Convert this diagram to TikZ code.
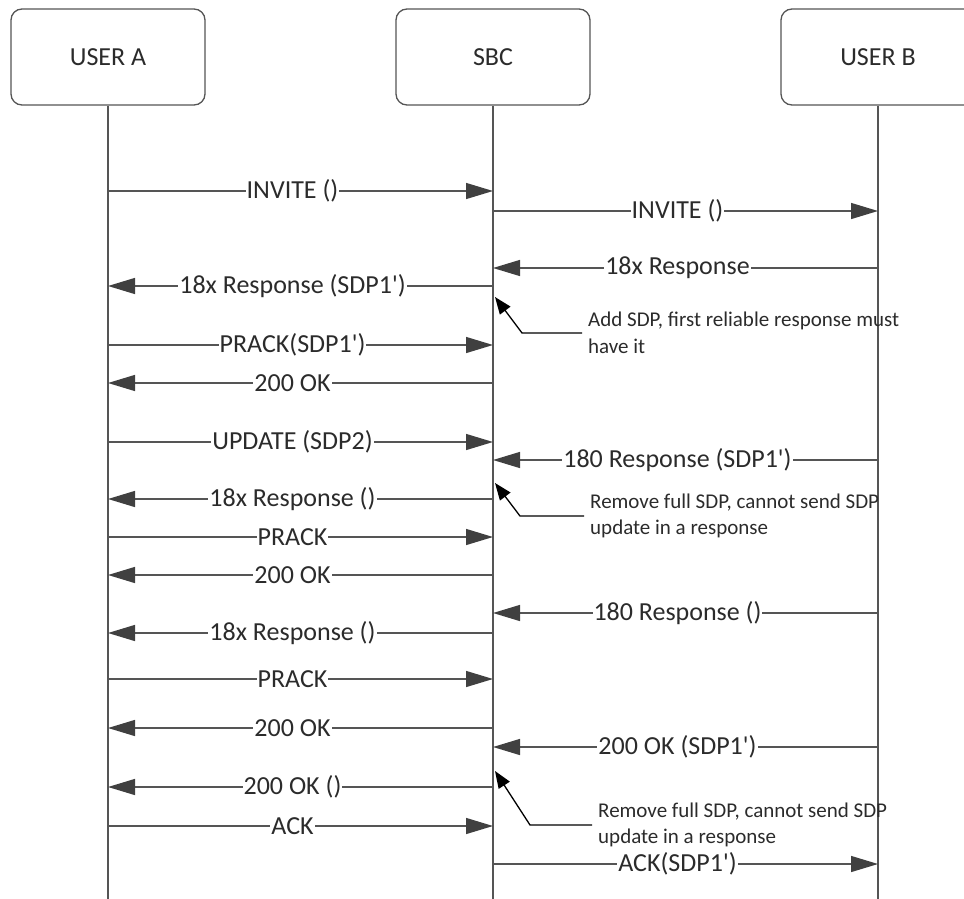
\documentclass[tikz,border=0pt]{standalone}
\usepackage{fontspec}
\setmainfont{Carlito}
\usetikzlibrary{arrows.meta}

\definecolor{linegray}{HTML}{555555}
\definecolor{headgray}{HTML}{404040}
\definecolor{txtgray}{HTML}{2B2B2B}

\begin{document}
\begin{tikzpicture}[x=1pt,y=-1pt,
  actor/.style={draw=linegray,line width=1.3pt,rounded corners=11pt,
    minimum width=194pt,minimum height=96pt,
    font=\fontsize{26}{30}\selectfont,text=txtgray},
  life/.style={draw=linegray,line width=1.3pt},
  msg/.style={draw=linegray,line width=1.3pt,
    -{Triangle[length=27pt,width=16pt,color=headgray]}},
  lbl/.style={fill=white,inner xsep=1pt,inner ysep=0pt,xshift=-8pt,
    font=\fontsize{26}{30}\selectfont,text=txtgray},
  note/.style={anchor=west,align=left,inner xsep=6pt,
    font=\fontsize{21}{26.5}\selectfont,text=txtgray},
  callout/.style={draw=black,line width=1.3pt,
    -{Triangle[length=17pt,width=13pt]}}]
    \useasboundingbox (0,0) rectangle (964,899);

    % participants
    \node[actor] (ua) at (108,57) {USER A};
    \node[actor] (sbc) at (493,57) {SBC};
    \node[actor] (ub) at (878,57) {USER B};
    \foreach \p in {ua,sbc,ub}{
        \coordinate (\p-end) at (\p.south |- 0,899);
        \draw[life] (\p.south) -- (\p-end);
    }

    % messages
    \foreach \i/\y/\src/\dst/\txt in {
        1/191/ua/sbc/{INVITE ()},
        2/211/sbc/ub/{INVITE ()},
        3/268/ub/sbc/{18x Response},
        4/286/sbc/ua/{18x Response (SDP1\textquotesingle)},
        5/345/ua/sbc/{PRACK(SDP1\textquotesingle)},
        6/383/sbc/ua/{200 OK},
        7/442/ua/sbc/{UPDATE (SDP2)},
        8/460/ub/sbc/{180 Response (SDP1\textquotesingle)},
        9/499/sbc/ua/{18x Response ()},
        10/537/ua/sbc/{PRACK},
        11/575/sbc/ua/{200 OK},
        12/613/ub/sbc/{180 Response ()},
        13/633/sbc/ua/{18x Response ()},
        14/679/ua/sbc/{PRACK},
        15/728/sbc/ua/{200 OK},
        16/747/ub/sbc/{200 OK (SDP1\textquotesingle)},
        17/787/sbc/ua/{200 OK ()},
        18/826/ua/sbc/{ACK},
        19/864/sbc/ub/{ACK(SDP1\textquotesingle)}}{
        \coordinate (m\i-a) at (\src.south |- 0,\y);
        \coordinate (m\i-b) at (\dst.south |- 0,\y);
        \draw[msg] (m\i-a) -- node[lbl]{\txt} (m\i-b);
    }

    % notes on the SBC
    \node[note] (n1) at (582,333) {Add SDP, first reliable response must\\have it};
    \node[note] (n2) at (584,516) {Remove full SDP, cannot send SDP\\update in a response};
    \node[note] (n3) at (592,825) {Remove full SDP, cannot send SDP\\update in a response};
    \coordinate (n1-tip) at ([xshift=2pt]sbc.south |- 0,297);
    \coordinate (n2-tip) at ([xshift=2pt]sbc.south |- 0,483);
    \coordinate (n3-tip) at ([xshift=2pt]sbc.south |- 0,771);
    \draw[callout] (n1.west) -- ++(-60,0) -- (n1-tip);
    \draw[callout] (n2.west) -- ++(-64,0) -- (n2-tip);
    \draw[callout] (n3.west) -- ++(-62,0) -- (n3-tip);
\end{tikzpicture}
\end{document}
